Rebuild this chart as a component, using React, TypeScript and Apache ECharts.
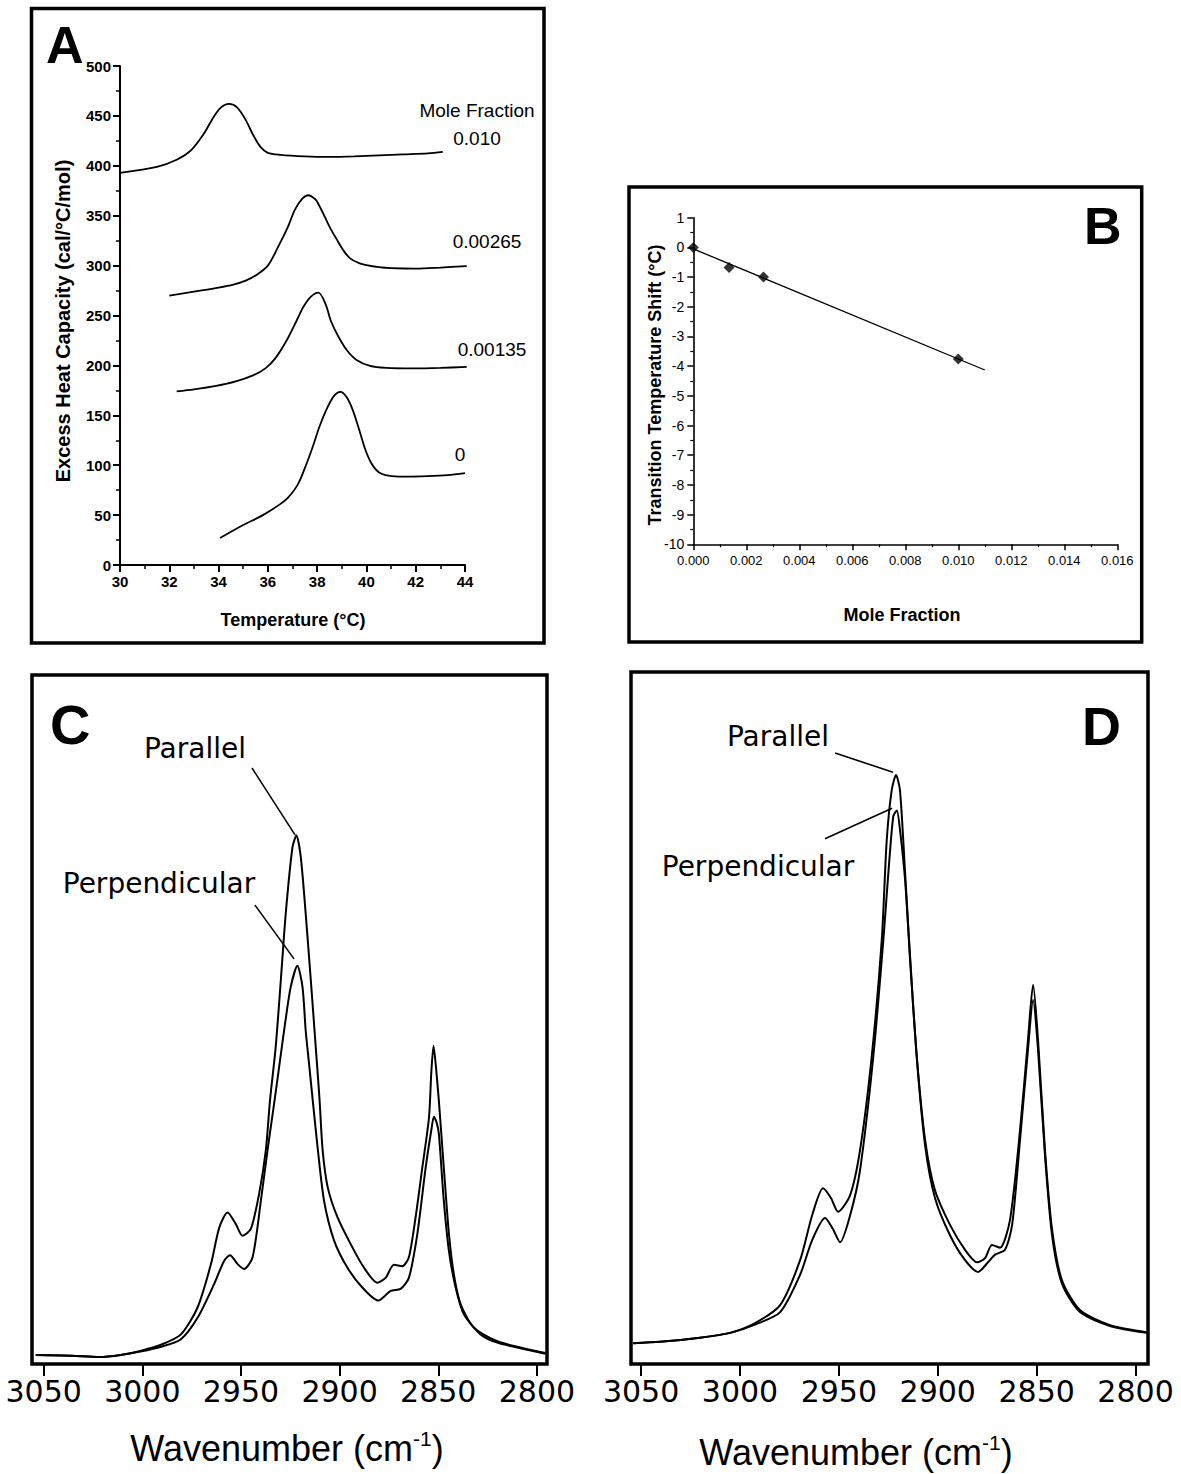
import React, { useEffect, useRef } from "react";
import * as echarts from "echarts";

const ARIAL = "'Liberation Sans', Arial, Helvetica, sans-serif";
const GOTHIC = "'DejaVu Sans', sans-serif";

// ---------- Panel A: DSC curves (Temperature °C, Excess heat capacity) ----------
const dscLabels = ["0.010", "0.00265", "0.00135", "0"];
const dsc0010 = [
  [30.0, 393], [31.5, 399], [32.3, 406], [32.9, 416], [33.4, 432], [33.8, 449], [34.1, 458.5],
  [34.42, 462], [34.75, 458.5], [35.1, 446], [35.4, 431], [35.7, 419], [36.0, 413], [36.5, 411],
  [37.5, 409.5], [38.5, 409], [39.5, 409.5], [40.5, 410.5], [41.5, 411.5], [42.5, 412.5], [43.1, 414],
];
const dsc00265 = [
  [32.0, 270], [33.0, 274], [34.0, 278], [34.6, 281], [35.1, 285], [35.5, 290], [36.0, 300],
  [36.4, 318], [36.8, 338], [37.1, 356], [37.4, 367], [37.65, 370.5], [37.9, 367], [38.0, 364],
  [38.25, 352], [38.5, 339], [38.8, 326], [39.1, 314], [39.35, 307], [39.7, 302.5], [40.0, 300.5],
  [40.5, 298.5], [41.0, 297.5], [42.0, 297], [43.0, 298], [44.07, 299.5],
];
const dsc00135 = [
  [32.3, 174], [33.0, 176], [33.9, 179.5], [34.7, 184], [35.4, 190], [35.9, 197], [36.3, 207],
  [36.76, 225], [37.17, 245], [37.45, 259], [37.75, 269], [38.05, 273], [38.35, 261], [38.55, 245],
  [38.86, 229], [39.2, 215.5], [39.6, 205.5], [40.15, 199.5], [40.8, 197.5], [41.9, 197],
  [43.0, 197.5], [44.07, 198.5],
];
const dsc0 = [
  [34.06, 27], [35.0, 40], [35.8, 50], [36.5, 61], [36.8, 67], [37.2, 80], [37.5, 97], [37.8, 117],
  [38.1, 139], [38.4, 157], [38.7, 170], [38.95, 173.5], [39.2, 168], [39.45, 155], [39.7, 136],
  [39.95, 116], [40.2, 102], [40.5, 93], [40.9, 89.5], [41.5, 88.5], [42.5, 89], [43.3, 90], [44.0, 92],
];

// ---------- Panel B: transition temperature shift vs mole fraction ----------
const shiftMoleFraction = [0, 0.00135, 0.00265, 0.01];
const shiftValues = [0, -0.68, -1.0, -3.76];
const fitLine = [[0, -0.05], [0.011, -4.13]];

// ---------- Panel C: IR spectra (wavenumber, relative absorbance %) ----------
const wnTicks = [2800, 2850, 2900, 2950, 3000, 3050];
const cParallel = [
  [3054, 1.3], [3036, 1.2], [3022, 1.0], [3011, 1.3], [3001, 1.9], [2990.5, 2.8], [2980.4, 4.3],
  [2972.0, 8.2], [2965.2, 14.5], [2961.0, 19.8], [2956.8, 22.0], [2952.6, 20.3], [2949.2, 18.6],
  [2945.0, 19.6], [2940.8, 24.7], [2937.4, 31.0], [2935.3, 38.2], [2932.4, 46.0], [2929.8, 55.7],
  [2927.3, 65.4], [2923.9, 75.0], [2921.9, 76.7], [2919.7, 73.6], [2917.2, 65.4], [2914.6, 55.7],
  [2912.1, 46.0], [2910.2, 38.5], [2908.6, 31.0], [2906.0, 25.6], [2901.1, 21.3], [2894.4, 17.4],
  [2887.7, 14.0], [2880.9, 11.8], [2876.7, 12.5], [2872.5, 14.4], [2868.2, 14.2], [2864.9, 15.5],
  [2861.5, 21.3], [2858.1, 28.5], [2854.7, 35.8], [2853.5, 42.5], [2852.4, 46.2], [2851.3, 43.5],
  [2849.7, 38.2], [2847.2, 28.5], [2844.6, 18.9], [2842.1, 13.0], [2838.7, 8.7], [2832.0, 5.3],
  [2820.1, 3.3], [2808.4, 2.4], [2795.7, 1.6],
];
const cPerpendicular = [
  [3054, 1.3], [3036, 1.2], [3022, 1.0], [3011, 1.3], [3001, 1.8], [2990.5, 2.5], [2980.4, 3.6],
  [2972.0, 6.7], [2963.6, 11.6], [2958.5, 15.0], [2955.5, 15.8], [2951.7, 14.5], [2948.4, 13.8],
  [2944.1, 15.5], [2939.9, 23.7], [2936.3, 31.5], [2933.0, 38.2], [2930.0, 44.5], [2927.6, 49.5],
  [2924.8, 54.7], [2921.4, 57.8], [2918.8, 54.7], [2917.2, 48.4], [2915.5, 43.6], [2913.6, 38.2],
  [2911.0, 31.0], [2907.9, 23.7], [2902.8, 17.9], [2896.1, 14.0], [2888.5, 11.1], [2880.4, 9.2],
  [2874.1, 10.6], [2869.1, 10.9], [2864.9, 12.5], [2860.6, 18.9], [2856.4, 28.5], [2853.5, 34.0],
  [2852.2, 35.9], [2850.8, 35.0], [2849.7, 33.4], [2847.2, 23.7], [2844.6, 16.4], [2841.2, 11.1],
  [2837.0, 7.2], [2828.6, 4.3], [2820.1, 3.1], [2808.4, 2.3], [2795.7, 1.5],
];

// ---------- Panel D ----------
const dParallel = [
  [3054, 3.0], [3040.4, 3.2], [3020.2, 3.8], [3005, 4.5], [2992.4, 5.9], [2979.7, 8.5],
  [2969.6, 15.0], [2963.5, 21.5], [2958.0, 25.4], [2954.0, 24.0], [2950.4, 22.0], [2944.3, 24.4],
  [2939.3, 30.9], [2933.4, 44.4], [2928.3, 61.3], [2925.8, 75.7], [2923.3, 82.9], [2921.1, 85.1],
  [2919.1, 82.9], [2916.5, 70.9], [2914.0, 58.9], [2910.6, 44.4], [2906.4, 32.4], [2901.4, 25.1],
  [2893.8, 20.1], [2886.2, 16.5], [2880.1, 14.7], [2876.1, 15.3], [2872.6, 17.2], [2868.5, 16.8],
  [2863.5, 20.8], [2858.4, 33.8], [2854.4, 46.8], [2851.8, 54.8], [2849.3, 46.8], [2845.8, 30.9],
  [2842.2, 19.4], [2837.2, 12.1], [2828.1, 7.8], [2812.9, 5.6], [2794.2, 4.6],
];
const dPerpendicular = [
  [3054, 3.0], [3040.4, 3.2], [3020.2, 3.8], [3005, 4.5], [2992.4, 5.7], [2979.7, 7.5],
  [2969.6, 12.9], [2963.5, 17.9], [2957.0, 21.1], [2953.0, 19.5], [2949.4, 17.6], [2944.3, 21.5],
  [2939.3, 28.0], [2932.6, 44.4], [2927.5, 61.3], [2925.0, 70.9], [2922.5, 79.1], [2920.7, 80.0],
  [2919.1, 77.2], [2916.5, 69.9], [2914.0, 58.4], [2910.6, 44.2], [2906.4, 31.6], [2901.4, 24.0],
  [2893.8, 18.6], [2886.2, 15.0], [2879.6, 13.3], [2874.6, 14.7], [2871.0, 15.8], [2866.0, 16.5],
  [2862.4, 20.1], [2858.4, 32.4], [2854.4, 45.4], [2851.8, 52.6], [2849.3, 45.4], [2845.8, 30.2],
  [2842.2, 18.6], [2837.2, 11.6], [2828.1, 7.5], [2812.9, 5.5], [2794.2, 4.5],
];

// leader lines (data coordinates)
const cParallelLeader = [[2944.4, 86.5], [2922.6, 76.8]];
const cPerpLeader = [[2942.9, 66.6], [2923.1, 58.8]];
const dParallelLeader = [[2951.9, 88.3], [2922.6, 85.5]];
const dPerpLeader = [[2957.0, 75.9], [2923.1, 80.3]];

const BLACK = "#000";

function curve(data: number[][], idx: number, width = 1.8, smooth: number = 0.3) {
  return {
    type: "line",
    data,
    xAxisIndex: idx,
    yAxisIndex: idx,
    showSymbol: false,
    smooth,
    lineStyle: { color: BLACK, width },
    silent: true,
  };
}

function leader(pts: number[][], idx: number) {
  return {
    type: "line",
    data: [],
    xAxisIndex: idx,
    yAxisIndex: idx,
    markLine: {
      silent: true,
      symbol: "none",
      label: { show: false },
      lineStyle: { color: BLACK, width: 1.6, type: "solid" },
      data: [[{ coord: pts[0] }, { coord: pts[1] }]],
    },
  };
}

function txt(text: string, x: number, y: number, font: string, align = "center", rotation = 0, extra: any = {}) {
  return {
    type: "text",
    x,
    y,
    rotation,
    z: 10,
    style: { text, font, fill: BLACK, align, verticalAlign: "middle", ...extra },
  };
}

function frame(x: number, y: number, w: number, h: number) {
  return {
    type: "rect",
    shape: { x, y, width: w, height: h },
    style: { fill: "none", stroke: BLACK, lineWidth: 3.5 },
    z: 5,
  };
}

function wavenumberTitle(x: number, y: number) {
  return {
    type: "text", x, y, z: 10,
    style: {
      text: "Wavenumber (cm{s|-1})", font: `36px ${ARIAL}`, fill: BLACK, align: "center", verticalAlign: "middle",
      rich: { s: { fontSize: 21, fontFamily: ARIAL, verticalAlign: "top", lineHeight: 40 } },
    },
  };
}

export default function App() {
  const ref = useRef<HTMLDivElement>(null);
  useEffect(() => {
    document.body.style.margin = "0";
    if (!ref.current) return;
    const chart = echarts.init(ref.current, null, { renderer: "svg" });

    const smallAxisLabel = { color: BLACK, fontFamily: ARIAL, fontWeight: "bold", fontSize: 15 };
    const thinLine = { lineStyle: { color: BLACK, width: 2 } };

    const wnAxis = (idx: number, min: number, max: number) => ({
      type: "value",
      gridIndex: idx,
      min,
      max,
      inverse: true,
      axisLine: { show: false },
      splitLine: { show: false },
      axisTick: { show: true, customValues: wnTicks, length: 12, inside: false, lineStyle: { color: BLACK, width: 2 } },
      axisLabel: {
        show: true, customValues: wnTicks, color: BLACK, fontFamily: GOTHIC, fontSize: 30, margin: 12,
        formatter: (v: number) => String(v),
      },
    });

    const option: any = {
      animation: false,
      backgroundColor: "#fff",
      grid: [
        { left: 120, top: 66, width: 345, height: 499, outerBoundsMode: "none", containLabel: false },
        { left: 693.3, top: 217.7, width: 424, height: 326.6, outerBoundsMode: "none", containLabel: false },
        { left: 32, top: 675, width: 515, height: 689, outerBoundsMode: "none", containLabel: false },
        { left: 631, top: 672, width: 517, height: 692, outerBoundsMode: "none", containLabel: false },
      ],
      xAxis: [
        {
          type: "value", gridIndex: 0, min: 30, max: 44, interval: 2,
          axisLine: { onZero: false, ...thinLine }, splitLine: { show: false },
          axisTick: { length: 7, lineStyle: { color: BLACK, width: 2 } },
          minorTick: { show: true, splitNumber: 2, length: 4, lineStyle: { color: BLACK, width: 1.5 } },
          axisLabel: { ...smallAxisLabel, margin: 9 },
        },
        {
          type: "value", gridIndex: 1, min: 0, max: 0.016, interval: 0.002,
          axisLine: { onZero: false, lineStyle: { color: BLACK, width: 1.6 } }, splitLine: { show: false },
          axisTick: { length: 6, lineStyle: { color: BLACK, width: 1.5 } },
          minorTick: { show: true, splitNumber: 2, length: 3, lineStyle: { color: BLACK, width: 1.2 } },
          axisLabel: { color: BLACK, fontFamily: ARIAL, fontSize: 13, margin: 10, formatter: (v: number) => v.toFixed(3) },
        },
        wnAxis(2, 2794.9, 3055.9),
        wnAxis(3, 2793.7, 3055.1),
      ],
      yAxis: [
        {
          type: "value", gridIndex: 0, min: 0, max: 500, interval: 50,
          axisLine: { show: true, onZero: false, ...thinLine }, splitLine: { show: false },
          axisTick: { length: 7, lineStyle: { color: BLACK, width: 2 } },
          minorTick: { show: true, splitNumber: 2, length: 4, lineStyle: { color: BLACK, width: 1.5 } },
          axisLabel: { ...smallAxisLabel, margin: 9 },
        },
        {
          type: "value", gridIndex: 1, min: -10, max: 1, interval: 1,
          axisLine: { show: true, onZero: false, lineStyle: { color: BLACK, width: 1.6 } }, splitLine: { show: false },
          axisTick: { length: 6, lineStyle: { color: BLACK, width: 1.5 } },
          minorTick: { show: true, splitNumber: 2, length: 3, lineStyle: { color: BLACK, width: 1.2 } },
          axisLabel: { color: BLACK, fontFamily: ARIAL, fontSize: 14, margin: 9 },
        },
        { type: "value", gridIndex: 2, min: 0, max: 100, show: false },
        { type: "value", gridIndex: 3, min: 0, max: 100, show: false },
      ],
      series: [
        { ...curve(dsc0010, 0), name: dscLabels[0] },
        { ...curve(dsc00265, 0), name: dscLabels[1] },
        { ...curve(dsc00135, 0), name: dscLabels[2] },
        { ...curve(dsc0, 0), name: dscLabels[3] },
        { ...curve(fitLine, 1, 1.3, 0), name: "fit" },
        {
          type: "scatter", name: "shift", xAxisIndex: 1, yAxisIndex: 1,
          data: shiftMoleFraction.map((m, i) => [m, shiftValues[i]]),
          symbol: "diamond", symbolSize: 11, itemStyle: { color: BLACK }, silent: true,
        },
        { ...curve(cParallel, 2, 2, 0.25), name: "C Parallel" },
        { ...curve(cPerpendicular, 2, 2, 0.25), name: "C Perpendicular" },
        leader(cParallelLeader, 2),
        leader(cPerpLeader, 2),
        { ...curve(dParallel, 3, 2, 0.25), name: "D Parallel" },
        { ...curve(dPerpendicular, 3, 2, 0.25), name: "D Perpendicular" },
        leader(dParallelLeader, 3),
        leader(dPerpLeader, 3),
      ],
      graphic: [
        frame(31.5, 8.5, 512.5, 634.5),
        frame(629, 187, 512.7, 455),
        frame(32, 675, 515, 689),
        frame(631, 672, 517, 692),
        // Panel A texts
        txt("A", 46, 45, `bold 52px ${ARIAL}`, "left"),
        txt("Mole Fraction", 477, 110, `19px ${ARIAL}`),
        txt(dscLabels[0], 477, 138, `19px ${ARIAL}`),
        txt(dscLabels[1], 487, 241, `19px ${ARIAL}`),
        txt(dscLabels[2], 492, 349, `19px ${ARIAL}`),
        txt(dscLabels[3], 460, 454, `19px ${ARIAL}`),
        txt("Excess Heat Capacity (cal/°C/mol)", 63, 321, `bold 20px ${ARIAL}`, "center", Math.PI / 2),
        txt("Temperature (°C)", 293, 620, `bold 18px ${ARIAL}`),
        // Panel B texts
        txt("B", 1084, 226, `bold 52px ${ARIAL}`, "left"),
        txt("Transition Temperature Shift (°C)", 655, 385, `bold 18px ${ARIAL}`, "center", Math.PI / 2),
        txt("Mole Fraction", 902, 615, `bold 18px ${ARIAL}`),
        // Panel C texts
        txt("C", 50, 724, `bold 56px ${ARIAL}`, "left"),
        txt("Parallel", 195, 748, `28px ${GOTHIC}`),
        txt("Perpendicular", 159, 883, `28px ${GOTHIC}`),
        wavenumberTitle(287, 1448),
        // Panel D texts
        txt("D", 1082, 726, `bold 54px ${ARIAL}`, "left"),
        txt("Parallel", 778, 736, `28px ${GOTHIC}`),
        txt("Perpendicular", 758, 866, `28px ${GOTHIC}`),
        wavenumberTitle(856, 1452),
      ],
    };
    chart.setOption(option);
    return () => chart.dispose();
  }, []);
  return <div ref={ref} style={{ width: 1181, height: 1474 }} />;
}
